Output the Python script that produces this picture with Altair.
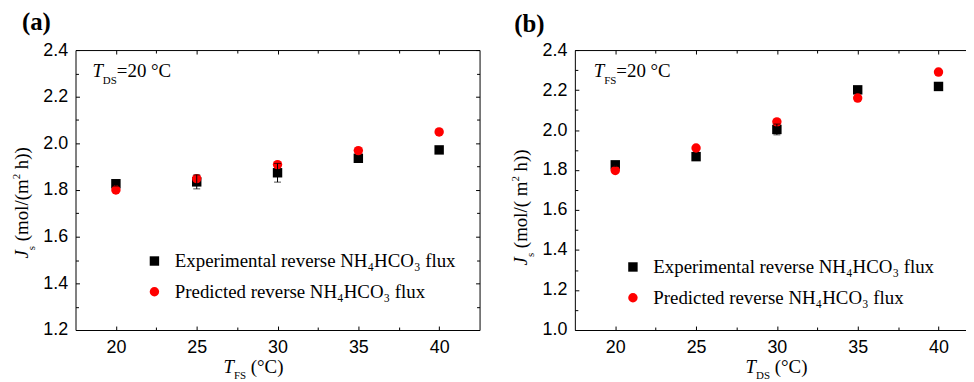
import altair as alt
import pandas as pd

# ---------------- data ----------------
temps = [20, 25, 30, 35, 40]

exp_a = [1.827, 1.835, 1.874, 1.936, 1.972]
err_a = [0.010, 0.030, 0.040, 0.008, 0.012]
pred_a = [1.800, 1.849, 1.909, 1.969, 2.049]

exp_b = [1.826, 1.867, 2.003, 2.201, 2.218]
err_b = [0.008, 0.010, 0.027, 0.010, 0.010]
pred_b = [1.798, 1.910, 2.041, 2.160, 2.290]

x_major = [20, 25, 30, 35, 40]
x_minor = [22.5, 27.5, 32.5, 37.5]
y_major_a = [1.2, 1.4, 1.6, 1.8, 2.0, 2.2, 2.4]
y_minor_a = [1.3, 1.5, 1.7, 1.9, 2.1, 2.3]
y_major_b = [1.0, 1.2, 1.4, 1.6, 1.8, 2.0, 2.2, 2.4]
y_minor_b = [1.1, 1.3, 1.5, 1.7, 1.9, 2.1, 2.3]

labels_a = ["Experimental reverse NH\u2084HCO\u2083 flux", "Predicted reverse NH\u2084HCO\u2083  flux"]
labels_b = ["Experimental reverse NH\u2084HCO\u2083 flux", "Predicted reverse NH\u2084HCO\u2083 flux"]

panel_tags = ["(a)", "(b)"]
cond_sub = ["DS", "FS"]          # T_DS=20 °C / T_FS=20 °C
xtitle_sub = ["FS", "DS"]        # T_FS (°C) / T_DS (°C)
ytitle_mid = ["(mol/(m", "(mol/( m"]

SERIF = "Liberation Serif"
SANS = "Liberation Sans"
FS_MAIN = 19
FS_SUB = 11
H = 282


def em(s, size):
    # Times New Roman advance widths (Liberation Serif is metric compatible)
    w = {' ': 250, '(': 333, ')': 333, 'm': 778, 'o': 500, 'l': 278, '/': 278,
         'h': 500, '2': 500, 's': 389, 'J': 444, 'T': 556, '=': 564, '0': 500,
         '\u00b0': 400, 'C': 667, 'F': 556, 'S': 556, 'D': 722}
    return sum(w.get(c, 500) for c in s) * size / 1000.0


SP = em(" ", FS_MAIN)


def txt(s, x, y, size=FS_MAIN, style="normal", weight="normal", angle=0, font=SERIF):
    return alt.Chart(pd.DataFrame({"t": [s]})).mark_text(
        align="left", baseline="alphabetic", font=font, fontSize=size,
        fontStyle=style, fontWeight=weight, angle=angle, color="black"
    ).encode(text="t:N", x=alt.value(x), y=alt.value(y))


def tick_layer(df, xs, ys, xorient, yorient, xvals, yvals, size):
    def ax(orient, vals):
        if vals is None:
            return None
        return alt.Axis(orient=orient, values=vals, labels=False, domain=False,
                        ticks=True, tickSize=size, offset=-size, tickColor="black",
                        tickWidth=1, grid=False, title=None)
    return alt.Chart(df).mark_point(opacity=0).encode(
        x=alt.X("T:Q", scale=xs, axis=ax(xorient, xvals)),
        y=alt.Y("J:Q", scale=ys, axis=ax(yorient, yvals)),
    )


def panel(i, exp, err, pred, labels, ydom, ymaj, ymin, width, xmax, right_frame,
          tag_pos, cond_pos, xt_pos, yt_pos, leg_pos):
    rows = []
    for t, v in zip(temps, exp):
        rows.append({"T": t, "J": v, "series": labels[0]})
    for t, v in zip(temps, pred):
        rows.append({"T": t, "J": v, "series": labels[1]})
    df = pd.DataFrame(rows)
    edf = pd.DataFrame({"T": temps, "lo": [v - e for v, e in zip(exp, err)],
                        "hi": [v + e for v, e in zip(exp, err)]})

    xs = alt.Scale(domain=[17.5, xmax], nice=False, zero=False)
    ys = alt.Scale(domain=ydom, nice=False, zero=False)

    leg = alt.Legend(orient="none", legendX=leg_pos[0], legendY=leg_pos[1], title=None,
                     labelFont=SERIF, labelFontSize=FS_MAIN, labelColor="black",
                     symbolSize=90, symbolStrokeWidth=0, rowPadding=11, labelOffset=11,
                     padding=0, labelLimit=400)
    sdom = labels

    main = alt.Chart(df).mark_point(filled=True, opacity=1, size=90, strokeWidth=0).encode(
        x=alt.X("T:Q", scale=xs, axis=alt.Axis(
            orient="bottom", values=x_major, format="d", labelFont=SANS, labelFontSize=18,
            labelColor="black", ticks=False, tickSize=0, labelPadding=9, domain=True,
            domainColor="black", domainWidth=1, grid=False, title=None,
            labelFlush=False, labelOverlap=False)),
        y=alt.Y("J:Q", scale=ys, axis=alt.Axis(
            orient="left", values=ymaj, format=".1f", labelFont=SANS, labelFontSize=18,
            labelColor="black", ticks=False, tickSize=0, labelPadding=8, domain=True,
            domainColor="black", domainWidth=1, grid=False, title=None,
            labelFlush=False, labelOverlap=False)),
        color=alt.Color("series:N", scale=alt.Scale(domain=sdom, range=["#000000", "#ff0000"]), legend=leg),
        shape=alt.Shape("series:N", scale=alt.Scale(domain=sdom, range=["square", "circle"]), legend=leg),
    )

    stem = alt.Chart(edf).mark_rule(color="black", strokeWidth=1).encode(
        x=alt.X("T:Q", scale=xs, axis=None),
        y=alt.Y("lo:Q", scale=ys, axis=None), y2="hi:Q")
    cap_lo = alt.Chart(edf).mark_tick(color="black", orient="horizontal", size=7, thickness=1).encode(
        x=alt.X("T:Q", scale=xs, axis=None), y=alt.Y("lo:Q", scale=ys, axis=None))
    cap_hi = alt.Chart(edf).mark_tick(color="black", orient="horizontal", size=7, thickness=1).encode(
        x=alt.X("T:Q", scale=xs, axis=None), y=alt.Y("hi:Q", scale=ys, axis=None))

    frame = alt.Chart(df).mark_point(opacity=0).encode(
        x=alt.X("T:Q", scale=xs, axis=alt.Axis(orient="top", labels=False, ticks=False, domain=True,
                                               domainColor="black", grid=False, title=None)),
        y=alt.Y("J:Q", scale=ys, axis=(alt.Axis(orient="right", labels=False, ticks=False, domain=True,
                                                domainColor="black", grid=False, title=None)
                                       if right_frame else None)),
    )

    ticks = [
        tick_layer(df, xs, ys, "bottom", "left", x_major, ymaj, 4),
        tick_layer(df, xs, ys, "bottom", "left", x_minor, ymin, 3),
        tick_layer(df, xs, ys, "top", "right", x_major, ymaj if right_frame else None, 4),
        tick_layer(df, xs, ys, "top", "right", x_minor, ymin if right_frame else None, 3),
    ]

    # texts
    texts = [txt(panel_tags[i], tag_pos[0], tag_pos[1], size=25, weight="bold")]
    cx, cy = cond_pos
    texts.append(txt("T", cx, cy, style="italic"))
    cx2 = cx + em("T", FS_MAIN)
    texts.append(txt(cond_sub[i], cx2, cy + 7, size=FS_SUB))
    cx3 = cx2 + em(cond_sub[i], FS_SUB)
    texts.append(txt("=20 \u00b0C", cx3, cy))

    tx, ty = xt_pos
    texts.append(txt("T", tx, ty, style="italic"))
    tx2 = tx + em("T", FS_MAIN)
    texts.append(txt(xtitle_sub[i], tx2, ty + 6, size=FS_SUB))
    tx3 = tx2 + em(xtitle_sub[i], FS_SUB) + SP
    texts.append(txt("(\u00b0C)", tx3, ty))

    yx, yy = yt_pos
    texts.append(txt("J", yx, yy, style="italic", angle=270))
    yy2 = yy - em("J", FS_MAIN)
    texts.append(txt("s", yx + 7, yy2, size=FS_SUB, angle=270))
    yy3 = yy2 - em("s", FS_SUB) - SP
    texts.append(txt(ytitle_mid[i], yx, yy3, angle=270))
    yy4 = yy3 - em(ytitle_mid[i], FS_MAIN)
    texts.append(txt("2", yx - 8, yy4, size=FS_SUB, angle=270))
    yy5 = yy4 - em("2", FS_SUB) - SP
    texts.append(txt("h))", yx, yy5, angle=270))

    layers = [frame] + ticks + [main, stem, cap_lo, cap_hi] + texts
    return alt.layer(*layers).resolve_axis(x="independent", y="independent").properties(
        width=width, height=H)


pa = panel(0, exp_a, err_a, pred_a, labels_a, [1.2, 2.4], y_major_a, y_minor_a,
           407, 42.5, True,
           tag_pos=(-54, -20), cond_pos=(17, 27), xt_pos=(149, 325), yt_pos=(-48, 210),
           leg_pos=(70, 203))
pb = panel(1, exp_b, err_b, pred_b, labels_b, [1.0, 2.4], y_major_b, y_minor_b,
           394, 17.5 + 394 / 16.28, False,
           tag_pos=(-61, -18), cond_pos=(19, 27), xt_pos=(172, 325), yt_pos=(-48, 217),
           leg_pos=(49, 209))

chart = alt.hconcat(pa, pb, spacing=30).resolve_scale(
    color="independent", shape="independent"
).configure_view(stroke=None).properties(
    padding={"left": 3, "top": 1, "right": 0, "bottom": 0}
)

chart.save("out.html", embed_options={"renderer": "svg", "actions": False})
